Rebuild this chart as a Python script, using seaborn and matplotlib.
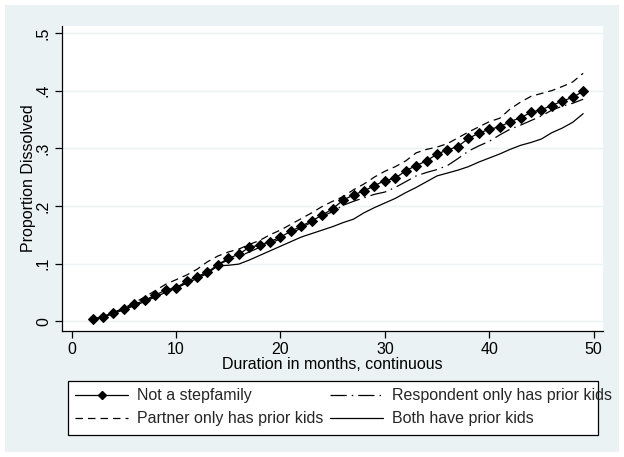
import numpy as np
import pandas as pd
import matplotlib
matplotlib.use("Agg")
import matplotlib.pyplot as plt
from matplotlib.lines import Line2D
from matplotlib.patches import Rectangle
import seaborn as sns

months = list(range(2, 50))

not_stepfamily = [0.003, 0.0075, 0.0145, 0.022, 0.0295, 0.036, 0.045, 0.054, 0.058, 0.069,
                  0.077, 0.085, 0.098, 0.109, 0.116, 0.128, 0.132, 0.138, 0.146, 0.156,
                  0.165, 0.174, 0.184, 0.195, 0.210, 0.219, 0.226, 0.235, 0.244, 0.248,
                  0.261, 0.270, 0.278, 0.290, 0.297, 0.303, 0.317, 0.326, 0.333, 0.337,
                  0.346, 0.353, 0.362, 0.367, 0.374, 0.382, 0.388, 0.399]

partner_only = [0.003, 0.008, 0.015, 0.023, 0.032, 0.042, 0.053, 0.064, 0.072, 0.080,
                0.090, 0.103, 0.113, 0.120, 0.125, 0.133, 0.140, 0.150, 0.158, 0.168,
                0.178, 0.188, 0.199, 0.208, 0.216, 0.228, 0.238, 0.250, 0.260, 0.268,
                0.278, 0.292, 0.298, 0.302, 0.308, 0.318, 0.328, 0.337, 0.346, 0.352,
                0.368, 0.380, 0.390, 0.395, 0.400, 0.407, 0.415, 0.430]

respondent_only = [0.003, 0.007, 0.014, 0.021, 0.028, 0.036, 0.044, 0.052, 0.058, 0.067,
                   0.076, 0.086, 0.098, 0.106, 0.112, 0.120, 0.128, 0.135, 0.143, 0.152,
                   0.162, 0.172, 0.182, 0.190, 0.201, 0.208, 0.214, 0.220, 0.224, 0.232,
                   0.242, 0.252, 0.258, 0.263, 0.270, 0.282, 0.295, 0.304, 0.312, 0.323,
                   0.333, 0.340, 0.348, 0.356, 0.366, 0.373, 0.378, 0.385]

both_prior = [0.003, 0.007, 0.013, 0.020, 0.027, 0.034, 0.042, 0.050, 0.057, 0.066,
              0.074, 0.083, 0.096, 0.097, 0.099, 0.106, 0.114, 0.122, 0.130, 0.138,
              0.146, 0.152, 0.158, 0.164, 0.171, 0.177, 0.188, 0.197, 0.205, 0.213,
              0.223, 0.232, 0.242, 0.252, 0.257, 0.262, 0.268, 0.276, 0.283, 0.290,
              0.298, 0.305, 0.310, 0.316, 0.327, 0.335, 0.345, 0.360]

x_ticks = [0, 10, 20, 30, 40, 50]
y_ticks = [0, 0.1, 0.2, 0.3, 0.4, 0.5]
y_tick_labels = ["0", ".1", ".2", ".3", ".4", ".5"]

labels = ["Not a stepfamily", "Partner only has prior kids",
          "Respondent only has prior kids", "Both have prior kids"]

sns.set_theme(style="white")
plt.rcParams["font.family"] = ["Liberation Sans", "DejaVu Sans"]

FS = 11.5
BG = "#eaf2f3"
W, H = 624, 457
fig = plt.figure(figsize=(W / 100, H / 100), dpi=100, facecolor="white")
fig.patches.append(Rectangle((5 / W, 5 / H), (W - 10) / W, (H - 10) / H,
                             transform=fig.transFigure, facecolor=BG,
                             edgecolor="none", zorder=-10))

ax = fig.add_axes([62 / W, 1 - 331 / H, (603 - 62) / W, (331 - 26) / H])
ax.set_facecolor("white")

df = pd.DataFrame({"month": months, "nsf": not_stepfamily, "partner": partner_only,
                   "resp": respondent_only, "both": both_prior})

DASH = (0, (6, 4))
DASHDOT = (0, (13, 4, 1.2, 4))

sns.lineplot(data=df, x="month", y="both", ax=ax, color="black", lw=0.9,
             linestyle="-")
sns.lineplot(data=df, x="month", y="resp", ax=ax, color="black", lw=0.9,
             linestyle=DASHDOT)
sns.lineplot(data=df, x="month", y="partner", ax=ax, color="black", lw=0.9,
             linestyle=DASH)
sns.lineplot(data=df, x="month", y="nsf", ax=ax, color="black", lw=0.9,
             marker="D", markersize=4.8, markeredgecolor="black",
             markerfacecolor="black", linestyle="-")

ax.set_xlim(-0.93, 50.9)
ax.set_ylim(-0.017, 0.512)
ax.set_xticks(x_ticks)
ax.set_yticks(y_ticks)
ax.set_yticklabels(y_tick_labels, rotation=90, va="center")
ax.tick_params(axis="both", which="major", direction="out", length=5, width=0.9,
               color="black", labelsize=FS, labelcolor="black", pad=3,
               bottom=True, left=True)
ax.yaxis.grid(True, color=BG, lw=1.0)
ax.xaxis.grid(False)
for s in ["top", "right"]:
    ax.spines[s].set_visible(False)
for s in ["left", "bottom"]:
    ax.spines[s].set_color("black")
    ax.spines[s].set_linewidth(0.9)

ax.set_xlabel("Duration in months, continuous", fontsize=FS, color="black", labelpad=0)
ax.set_ylabel("Proportion Dissolved", fontsize=FS, color="black", labelpad=0)

# legend box (drawn separately so the long label may overflow like the original)
bx0, by0, bx1, by1 = 68, 381, 598, 435
fig.patches.append(Rectangle((bx0 / W, 1 - by1 / H), (bx1 - bx0) / W, (by1 - by0) / H,
                             transform=fig.transFigure, facecolor="white",
                             edgecolor="black", lw=0.9, zorder=1))

handles = [
    Line2D([], [], color="black", lw=0.9, marker="D", markersize=4.5),
    Line2D([], [], color="black", lw=0.9, linestyle=DASH),
    Line2D([], [], color="black", lw=0.9, linestyle=DASHDOT),
    Line2D([], [], color="black", lw=0.9, linestyle="-"),
]
leg = fig.legend(handles, labels, ncol=2, loc="upper left",
                 bbox_to_anchor=(bx0 / W, 1 - by0 / H), frameon=False,
                 fontsize=FS, handlelength=3.3, handletextpad=0.55,
                 columnspacing=0.45, labelspacing=0.5, borderpad=0.45,
                 borderaxespad=0)
leg.set_zorder(5)

fig.savefig("out.png", dpi=100, facecolor="white")
